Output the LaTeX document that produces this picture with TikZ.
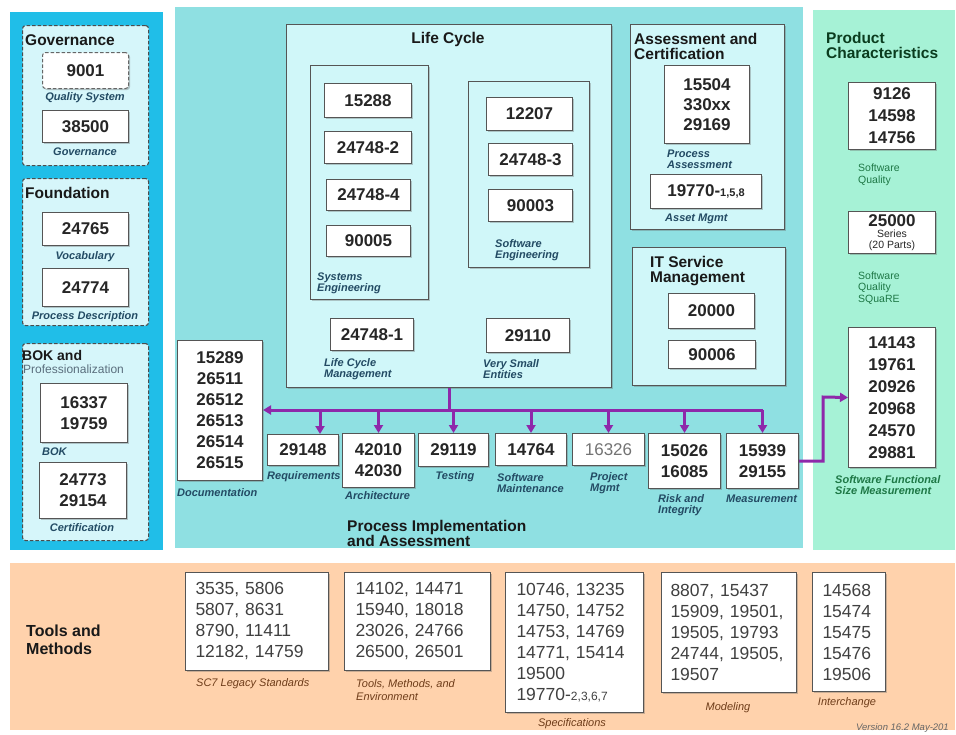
\documentclass[tikz,border=0pt]{standalone}
\usepackage{fontspec}
\setmainfont{Liberation Sans}
\usetikzlibrary{arrows.meta,shadows}
\definecolor{cyanout}{RGB}{32,190,232}
\definecolor{cyanin}{RGB}{214,246,250}
\definecolor{midpanel}{RGB}{143,224,226}
\definecolor{lcfill}{RGB}{208,247,249}
\definecolor{greenpanel}{RGB}{166,242,214}
\definecolor{orangepanel}{RGB}{255,210,172}
\definecolor{purp}{RGB}{142,40,170}
\definecolor{labblue}{RGB}{35,75,100}
\definecolor{labgreen}{RGB}{30,120,70}
\definecolor{titlegreen}{RGB}{10,60,30}
\definecolor{labbrown}{RGB}{110,60,25}
\definecolor{edgecol}{RGB}{85,85,85}
\definecolor{profcol}{RGB}{90,110,125}
\newcommand\xnum{\fontsize{17}{21}\selectfont\bfseries}
\newcommand\xtl{\fontsize{17.5}{21}\selectfont}
\newcommand\xtitle{\fontsize{15.5}{15}\selectfont\bfseries}
\newcommand\xlab{\fontsize{11}{11}\selectfont\bfseries\itshape}
\newcommand\xblab{\fontsize{11}{13}\selectfont\itshape}
\newcommand\xglab{\fontsize{10.5}{11.5}\selectfont}
\begin{document}
\begin{tikzpicture}[x=1pt,y=-1pt,
  panel/.style={anchor=north west, inner sep=0pt, draw=none},
  grp/.style={anchor=north west, inner sep=0pt, draw=edgecol, line width=1pt, fill=lcfill,
    drop shadow={shadow xshift=1.5pt, shadow yshift=-1.5pt, fill=black!60, opacity=0.35}},
  dgrp/.style={anchor=north west, inner sep=0pt, draw=black!70, line width=1.1pt,
    dash pattern=on 3.5pt off 2pt, fill=cyanin, rounded corners=3pt},
  nbox/.style={anchor=north west, inner sep=0pt, draw=edgecol, line width=1pt, fill=white,
    align=center, text=black!85, font=\xnum,
    drop shadow={shadow xshift=1.5pt, shadow yshift=-1.5pt, fill=black!60, opacity=0.35}},
  tbox/.style={nbox, align=left, font=\xtl, text=black!75, inner xsep=10pt},
  ttl/.style={anchor=west, inner sep=0pt, align=left, font=\xtitle, text=black!90},
  lab/.style={anchor=west, inner sep=0pt, align=left, font=\xlab, text=labblue},
  glab/.style={anchor=west, inner sep=0pt, align=left, font=\xglab, text=labgreen},
  blab/.style={anchor=west, inner sep=0pt, align=left, font=\xblab, text=labbrown},
  pline/.style={draw=purp, line width=3pt},
  parrow/.style={pline, -{Triangle[length=8pt,width=9pt]}},
]
\fill[white] (0,0) rectangle (956,734);
\useasboundingbox (0,0) rectangle (956,734);

% ---------------- left panel
\node[panel, fill=cyanout, minimum width=153pt, minimum height=538pt] (leftpanel) at (10,12) {};
\node[dgrp, minimum width=126pt, minimum height=140pt] (gov) at (22,25) {};
\node[ttl] (govt) at (25,40) {Governance};
\node[nbox, dash pattern=on 3.5pt off 2pt, rounded corners=3pt, draw=black!60,
  minimum width=86pt, minimum height=36pt] (n9001) at (42,52) {9001};
\node[lab, anchor=center] (l9001) at (85,98) {Quality System};
\node[nbox, minimum width=86pt, minimum height=32pt] (n38500) at (42,110) {38500};
\node[lab, anchor=center] (l38500) at (85,152) {Governance};

\node[dgrp, minimum width=126pt, minimum height=147pt] (found) at (22,178) {};
\node[ttl] (foundt) at (25,193) {Foundation};
\node[nbox, minimum width=86pt, minimum height=33pt] (n24765) at (42,212) {24765};
\node[lab, anchor=center] (l24765) at (85,257) {Vocabulary};
\node[nbox, minimum width=86pt, minimum height=38pt] (n24774) at (42,268) {24774};
\node[lab, anchor=center] (l24774) at (85,317) {Process Description};

\node[dgrp, minimum width=126pt, minimum height=197pt] (bok) at (22,343) {};
\node[ttl, font=\fontsize{14}{14}\selectfont\bfseries] (bokt) at (22,355) {BOK and};
\node[anchor=west, inner sep=0pt, font=\fontsize{12}{12}\selectfont, text=profcol] (prof) at (23,369) {Professionalization};
\node[nbox, minimum width=87pt, minimum height=59pt] (n16337) at (40,383) {16337\\19759};
\node[lab] (l16337) at (42,452) {BOK};
\node[nbox, minimum width=87pt, minimum height=56pt] (n24773) at (39,462) {24773\\29154};
\node[lab, anchor=center] (l24773) at (82,528) {Certification};

% ---------------- middle panel
\node[panel, fill=midpanel, minimum width=628pt, minimum height=541pt] (midpanel) at (175,7) {};
\node[grp, minimum width=325pt, minimum height=363pt] (lc) at (286,24) {};
\node[ttl, anchor=center] (lct) at (448,39) {Life Cycle};

\node[grp, minimum width=118pt, minimum height=234pt] (se) at (310,65) {};
\node[nbox, minimum width=87pt, minimum height=34pt] (n15288) at (324,83) {15288};
\node[nbox, minimum width=87pt, minimum height=32pt] (n247482) at (324,131) {24748-2};
\node[nbox, minimum width=84pt, minimum height=31pt] (n247484) at (326,179) {24748-4};
\node[nbox, minimum width=84pt, minimum height=31pt] (n90005) at (326,225) {90005};
\node[lab] (lse) at (317,283) {Systems\\Engineering};

\node[grp, minimum width=121pt, minimum height=186pt] (swe) at (468,81) {};
\node[nbox, minimum width=86pt, minimum height=33pt] (n12207) at (486,97) {12207};
\node[nbox, minimum width=84pt, minimum height=32pt] (n247483) at (488,143) {24748-3};
\node[nbox, minimum width=84pt, minimum height=32pt] (n90003) at (488,189) {90003};
\node[lab] (lswe) at (495,250) {Software\\Engineering};

\node[nbox, minimum width=83pt, minimum height=32pt] (n247481) at (330,318) {24748-1};
\node[lab] (l247481) at (324,369) {Life Cycle\\Management};
\node[nbox, minimum width=83pt, minimum height=34pt] (n29110) at (486,318) {29110};
\node[lab] (l29110) at (483,369) {Very Small\\Entities};

\node[grp, minimum width=154pt, minimum height=205pt] (ac) at (630,24) {};
\node[ttl] (act) at (634,46) {Assessment and\\Certification};
\node[nbox, minimum width=85pt, minimum height=78pt, font=\fontsize{17}{20}\selectfont\bfseries] (n15504) at (664,65) {15504\\330xx\\29169};
\node[lab] (l15504) at (667,159) {Process\\Assessment};
\node[nbox, minimum width=111pt, minimum height=34pt] (n19770) at (650,174) {19770-{\fontsize{11}{11}\selectfont 1,5,8}};
\node[lab] (l19770) at (665,219) {Asset Mgmt};

\node[grp, minimum width=153pt, minimum height=138pt] (its) at (632,247) {};
\node[ttl] (itst) at (650,271) {IT Service\\Management};
\node[nbox, minimum width=86pt, minimum height=35pt] (n20000) at (668,293) {20000};
\node[nbox, minimum width=87pt, minimum height=28pt] (n90006) at (668,340) {90006};

% process row
\node[nbox, minimum width=85pt, minimum height=140pt] (doc) at (177,340) {15289\\26511\\26512\\26513\\26514\\26515};
\node[lab] (ldoc) at (177,493) {Documentation};
\node[lab] (l29148) at (267,477) {Requirements};
\node[nbox, minimum width=71pt, minimum height=31pt] (n29148) at (267,434) {29148};
\node[nbox, minimum width=72pt, minimum height=54pt] (n42010) at (342,433) {42010\\42030};
\node[lab] (l42010) at (345,496) {Architecture};
\node[nbox, minimum width=70pt, minimum height=33pt] (n29119) at (418,433) {29119};
\node[lab, anchor=center] (l29119) at (455,477) {Testing};
\node[nbox, minimum width=71pt, minimum height=32pt] (n14764) at (495,433) {14764};
\node[lab] (l14764) at (497,483) {Software\\Maintenance};
\node[nbox, minimum width=72pt, minimum height=32pt, font=\fontsize{17}{21}\selectfont, text=black!55] (n16326) at (572,433) {16326};
\node[lab] (l16326) at (590,483) {Project\\Mgmt};
\node[nbox, minimum width=72pt, minimum height=55pt] (n15026) at (648,433) {15026\\16085};
\node[lab] (l15026) at (658,505) {Risk and\\Integrity};
\node[nbox, minimum width=72pt, minimum height=55pt] (n15939) at (726,433) {15939\\29155};
\node[lab] (l15939) at (726,499) {Measurement};
\node[ttl] (pit) at (347,533) {Process Implementation\\and Assessment};

% ---------------- right panel
\node[panel, fill=greenpanel, minimum width=142pt, minimum height=540pt] (greenpanel) at (813,10) {};
\node[ttl, text=titlegreen] (pct) at (826,45) {Product\\Characteristics};
\node[nbox, minimum width=87pt, minimum height=67pt, font=\fontsize{17}{22}\selectfont\bfseries] (n9126) at (848,82) {9126\\14598\\14756};
\node[glab] (l9126) at (858,175) {Software\\Quality};
\node[nbox, minimum width=87pt, minimum height=42pt, font=\fontsize{10.5}{11}\selectfont] (n25000) at (848,211) {{\fontsize{17}{17}\selectfont\bfseries 25000}\\Series\\(20 Parts)};
\node[glab] (l25000) at (858,288) {Software\\Quality\\SQuaRE};
\node[nbox, minimum width=87pt, minimum height=140pt, font=\fontsize{17}{22}\selectfont\bfseries] (nbig) at (848,327) {14143\\19761\\20926\\20968\\24570\\29881};
\node[lab, text=labgreen] (lbig) at (835,485) {Software Functional\\Size Measurement};

% ---------------- connectors
\coordinate (bus) at (447,410);
\draw[pline] (lc.south) -- (lc.south |- bus);
\draw[parrow] (n15939.north |- bus) -- (doc.east |- bus);
\draw[parrow] ([xshift=17pt]n29148.north |- bus) -- ([xshift=17pt]n29148.north);
\draw[parrow] (n42010.north |- bus) -- (n42010.north);
\draw[parrow] (n29119.north |- bus) -- (n29119.north);
\draw[parrow] (n14764.north |- bus) -- (n14764.north);
\draw[parrow] (n16326.north |- bus) -- (n16326.north);
\draw[parrow] (n15026.north |- bus) -- (n15026.north);
\draw[parrow] (n15939.north |- bus) -- (n15939.north);
\coordinate (elbow) at (823,397);
\draw[parrow] (n15939.east) -| (elbow) -- (nbig.west);

% ---------------- bottom panel
\node[panel, fill=orangepanel, minimum width=945pt, minimum height=167pt] (orangepanel) at (10,563) {};
\node[ttl, font=\fontsize{16}{18}\selectfont\bfseries] (tmt) at (26,640) {Tools and\\Methods};
\node[tbox, minimum width=143pt, minimum height=98pt, text width=123pt] (b1) at (185,572) {3535, 5806\\5807, 8631\\8790, 11411\\12182, 14759};
\node[blab] (lb1) at (196,684) {SC7 Legacy Standards};
\node[tbox, minimum width=146pt, minimum height=98pt, text width=124pt, inner xsep=11pt] (b2) at (344,572) {14102, 14471\\15940, 18018\\23026, 24766\\26500, 26501};
\node[blab] (lb2) at (356,690) {Tools, Methods, and\\Environment};
\node[tbox, minimum width=138pt, minimum height=140pt, text width=116pt, inner xsep=11pt] (b3) at (505,572) {10746, 13235\\14750, 14752\\14753, 14769\\14771, 15414\\19500\\19770-{\fontsize{12}{12}\selectfont 2,3,6,7}};
\node[blab, anchor=center] (lb3) at (572,724) {Specifications};
\node[tbox, minimum width=135pt, minimum height=120pt, text width=117pt, inner xsep=9pt] (b4) at (661,572) {8807, 15437\\15909, 19501,\\19505, 19793\\24744, 19505,\\19507};
\node[blab, anchor=center] (lb4) at (728,708) {Modeling};
\node[tbox, minimum width=73pt, minimum height=119pt, text width=53pt] (b5) at (812,572) {14568\\15474\\15475\\15476\\19506};
\node[blab, anchor=center] (lb5) at (847,703) {Interchange};
\node[blab, font=\fontsize{9.5}{10}\selectfont\itshape, text=black!60] (ver) at (856,728) {Version 16.2 May-201};
\end{tikzpicture}
\end{document}
